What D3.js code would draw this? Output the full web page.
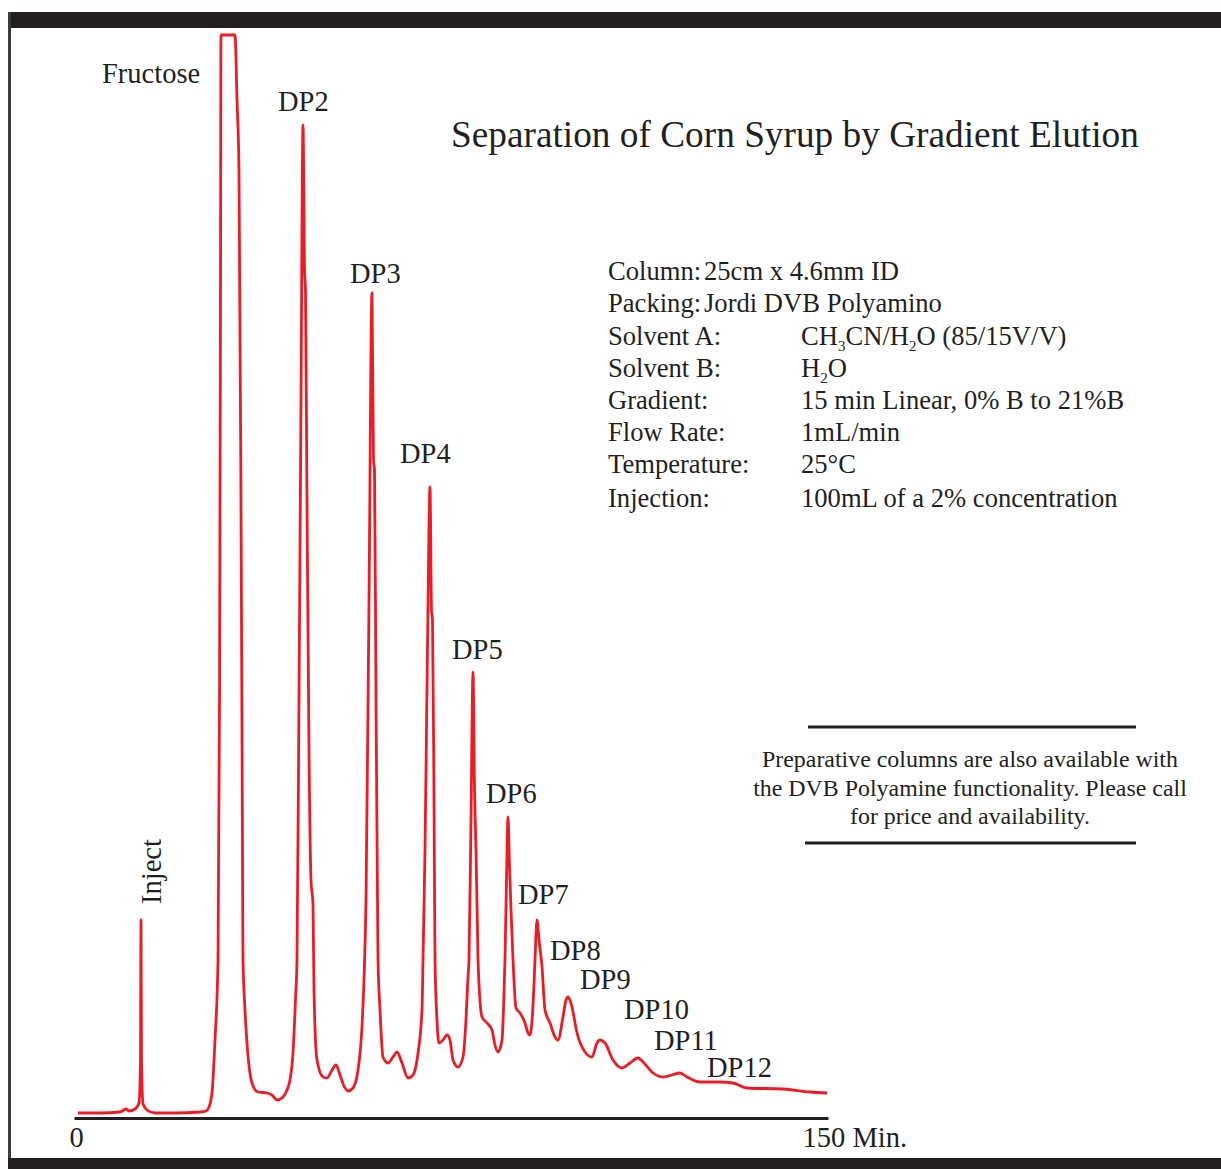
<!DOCTYPE html>
<html>
<head>
<meta charset="utf-8">
<script src="https://cdn.jsdelivr.net/npm/d3@7"></script>
<style>
  body { margin: 0; background: #fff; }
  text { font-family: "Liberation Serif", "Times New Roman", serif; fill: #231f20; }
</style>
</head>
<body>
<div id="chart"></div>
<script>
// retention time (min) and detector response (arbitrary units, clipped at 1078)
const retentionTime = [0.80, 5.17, 9.15, 10.34, 10.94, 12.14, 12.93, 13.23, 13.33, 13.43, 13.73, 14.52, 16.11, 20.09, 25.07, 26.26, 26.86, 27.45, 28.05, 28.65, 28.95, 29.14, 29.24, 32.03, 32.43, 32.82, 33.22, 33.52, 33.62, 34.02, 34.42, 35.41, 36.60, 38.40, 39.39, 40.38, 41.58, 42.37, 42.97, 43.57, 44.06, 44.36, 44.76, 45.16, 45.56, 45.86, 46.05, 46.35, 46.75, 47.15, 47.55, 47.75, 48.34, 49.54, 50.33, 51.33, 52.12, 52.92, 53.71, 54.51, 55.50, 56.50, 57.29, 57.69, 58.09, 58.69, 59.28, 59.58, 59.78, 60.08, 60.38, 60.48, 60.88, 61.47, 62.47, 63.46, 64.26, 65.25, 66.45, 67.44, 68.44, 69.23, 69.43, 69.83, 70.32, 70.82, 71.12, 71.32, 71.62, 71.82, 72.21, 72.61, 73.41, 74.20, 74.80, 75.40, 76.39, 77.39, 77.98, 78.38, 78.58, 78.98, 79.38, 79.68, 79.97, 80.27, 80.37, 81.17, 82.16, 83.16, 83.75, 84.35, 85.15, 85.44, 85.74, 86.04, 86.34, 86.64, 86.94, 87.34, 87.93, 88.73, 89.72, 90.32, 90.72, 91.32, 91.71, 92.11, 92.51, 93.11, 93.70, 94.70, 95.69, 96.29, 97.28, 97.88, 98.28, 98.67, 99.07, 100.07, 101.66, 103.05, 104.05, 104.64, 105.64, 107.23, 109.02, 110.61, 112.20, 113.20, 115.19, 117.18, 118.97, 120.56, 121.96, 124.54, 128.52, 131.10, 133.89, 141.05, 146.42, 149.80];
const detectorSignal = [0, 0, 1, 4, 2, 4, 10, 53, 193, 53, 9, 3, 0, 0, 1, 2, 6, 20, 73, 153, 413, 813, 1078, 1078, 1013, 943, 613, 263, 153, 103, 70, 30, 21, 20, 18, 13, 16, 23, 33, 60, 113, 153, 413, 713, 988, 843, 823, 613, 363, 233, 208, 120, 53, 36, 35, 43, 48, 38, 27, 22, 25, 43, 86, 133, 213, 513, 820, 653, 643, 413, 213, 153, 103, 56, 50, 56, 61, 50, 35, 38, 60, 103, 153, 263, 463, 626, 503, 493, 313, 153, 93, 70, 73, 78, 73, 53, 46, 56, 93, 136, 153, 293, 441, 323, 263, 183, 153, 96, 90, 83, 68, 61, 73, 103, 153, 233, 296, 248, 203, 153, 105, 100, 90, 80, 78, 108, 153, 193, 173, 146, 103, 90, 76, 73, 96, 113, 116, 113, 106, 80, 61, 56, 70, 73, 70, 53, 45, 50, 55, 51, 40, 36, 38, 40, 36, 31, 31, 30, 25, 24, 21, 20];

const peakLabels = ["Fructose", "DP2", "DP3", "DP4", "DP5", "DP6", "DP7", "DP8", "DP9", "DP10", "DP11", "DP12"];
const labelPos = [[102, 83], [278, 111], [350, 283], [400, 463], [452, 659], [486, 803], [518, 904], [550, 960], [580, 989], [624, 1019], [654, 1050], [707, 1077]];

const timeTicks = [0, 150];

const conditionNames = ["Column:", "Packing:", "Solvent A:", "Solvent B:", "Gradient:", "Flow Rate:", "Temperature:", "Injection:"];
const conditionValues = [
  [["25cm x 4.6mm ID"]],
  [["Jordi DVB Polyamino"]],
  [["CH"], ["3", 1], ["CN/H"], ["2", 1], ["O (85/15V/V)"]],
  [["H"], ["2", 1], ["O"]],
  [["15 min Linear, 0% B to 21%B"]],
  [["1mL/min"]],
  [["25°C"]],
  [["100mL of a 2% concentration"]]
];
const noteLines = ["Preparative columns are also available with", "the DVB Polyamine functionality. Please call", "for price and availability."];

const width = 1221, height = 1169;
const svg = d3.select("#chart").append("svg")
  .attr("width", width)
  .attr("height", height);

// frame
svg.append("rect").attr("x", 8).attr("y", 12).attr("width", width - 8).attr("height", 16).attr("fill", "#231f20");
svg.append("rect").attr("x", 8).attr("y", 1158).attr("width", width - 8).attr("height", 11).attr("fill", "#231f20");
svg.append("line").attr("x1", 9.5).attr("x2", 9.5).attr("y1", 12).attr("y2", 1158)
  .attr("stroke", "#3b3b3b").attr("stroke-width", 3);

const x = d3.scaleLinear().domain([0, 150]).range([74, 828]);
const y = d3.scaleLinear().domain([0, 1078]).range([1113, 35]);

// time axis
const axis = svg.append("g")
  .attr("transform", "translate(0,1118)")
  .call(d3.axisBottom(x).tickValues(timeTicks).tickSize(0).tickSizeOuter(0)
    .tickFormat(d => d === 150 ? "150 Min." : d));
axis.select(".domain").attr("stroke", "#231f20").attr("stroke-width", 3);
axis.selectAll(".tick text")
  .attr("y", 29)
  .attr("dy", 0)
  .style("font-size", "28.5px")
  .style("font-family", "'Liberation Serif', serif")
  .attr("fill", "#231f20")
  .attr("text-anchor", d => d === 150 ? "start" : "middle")
  .attr("dx", d => d === 150 ? -26 : 2);

// chromatogram trace
const points = retentionTime.map((t, i) => [t, detectorSignal[i]]);
const line = d3.line()
  .x(d => x(d[0]))
  .y(d => y(d[1]))
  .curve(d3.curveMonotoneX);

svg.append("path")
  .datum(points)
  .attr("d", line)
  .attr("fill", "none")
  .attr("stroke", "#ed1c24")
  .attr("stroke-width", 2.8)
  .attr("stroke-linejoin", "round");

// peak labels
svg.selectAll(".peak")
  .data(peakLabels)
  .enter()
  .append("text")
  .attr("class", "peak")
  .attr("x", (d, i) => labelPos[i][0])
  .attr("y", (d, i) => labelPos[i][1])
  .style("font-size", "28.5px")
  .text(d => d);

svg.append("text")
  .attr("transform", "translate(161,904) rotate(-90)")
  .style("font-size", "28.5px")
  .text("Inject");

// title
svg.append("text")
  .attr("x", 451)
  .attr("y", 147)
  .style("font-size", "37.3px")
  .text("Separation of Corn Syrup by Gradient Elution");

// run conditions
const rowY = [280, 312, 345, 377, 409, 441, 473, 507];
conditionNames.forEach((name, i) => {
  svg.append("text")
    .attr("x", 608).attr("y", rowY[i])
    .style("font-size", "26.6px")
    .text(name);
  const t = svg.append("text")
    .attr("x", i < 2 ? 704 : 801).attr("y", rowY[i])
    .style("font-size", "26.6px");
  let lowered = false;
  conditionValues[i].forEach(seg => {
    const isSub = !!seg[1];
    let dy = 0;
    if (isSub && !lowered) dy = 6;
    if (!isSub && lowered) dy = -6;
    lowered = isSub;
    t.append("tspan")
      .attr("dy", dy)
      .style("font-size", isSub ? "15px" : null)
      .text(seg[0]);
  });
});

// note box
svg.append("line").attr("x1", 808).attr("x2", 1136).attr("y1", 727).attr("y2", 727)
  .attr("stroke", "#231f20").attr("stroke-width", 3);
svg.append("line").attr("x1", 805).attr("x2", 1136).attr("y1", 843).attr("y2", 843)
  .attr("stroke", "#231f20").attr("stroke-width", 3);
svg.selectAll(".note")
  .data(noteLines)
  .enter()
  .append("text")
  .attr("class", "note")
  .attr("x", 970)
  .attr("y", (d, i) => 767 + i * 28.5)
  .attr("text-anchor", "middle")
  .style("font-size", "23.9px")
  .text(d => d);
</script>
</body>
</html>
